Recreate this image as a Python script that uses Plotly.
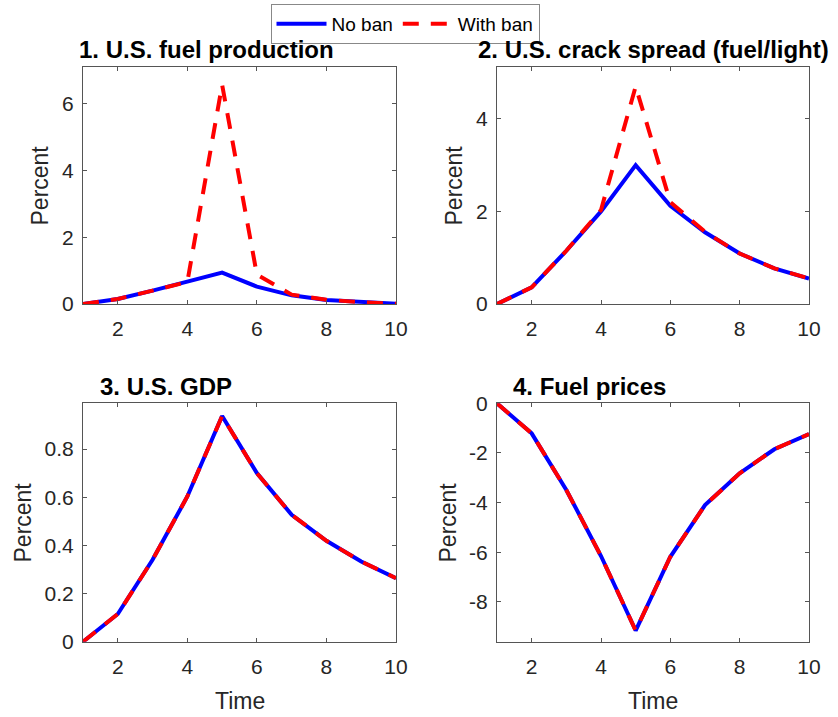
import plotly.graph_objects as go

# Impulse responses over ten periods, two scenarios
time = [1, 2, 3, 4, 5, 6, 7, 8, 9, 10]

fuel_prod_no_ban = [0.0, 0.15, 0.40, 0.66, 0.94, 0.52, 0.26, 0.12, 0.05, 0.01]
fuel_prod_ban = [0.0, 0.15, 0.40, 0.66, 6.57, 0.88, 0.28, 0.13, 0.05, 0.01]

crack_no_ban = [0.0, 0.36, 1.15, 2.00, 3.00, 2.12, 1.55, 1.09, 0.77, 0.55]
crack_ban = [0.0, 0.36, 1.15, 2.03, 4.70, 2.20, 1.56, 1.09, 0.77, 0.55]

gdp_no_ban = [0.0, 0.115, 0.34, 0.603, 0.937, 0.70, 0.527, 0.419, 0.333, 0.264]
gdp_ban = [0.0, 0.115, 0.34, 0.603, 0.937, 0.70, 0.527, 0.419, 0.333, 0.264]

price_no_ban = [0.0, -1.21, -3.49, -6.15, -9.15, -6.18, -4.10, -2.82, -1.85, -1.24]
price_ban = [0.0, -1.21, -3.49, -6.15, -9.15, -6.18, -4.10, -2.82, -1.85, -1.24]

panel_titles = ["1. U.S. fuel production", "2. U.S. crack spread (fuel/light)",
                "3. U.S. GDP", "4. Fuel prices"]
series_names = ["No ban", "With ban"]
x_ticks = [2, 4, 6, 8, 10]
y_ticks = [[0, 2, 4, 6], [0, 2, 4], [0, 0.2, 0.4, 0.6, 0.8], [-8, -6, -4, -2, 0]]
y_tick_text = [["0", "2", "4", "6"], ["0", "2", "4"],
               ["0", "0.2", "0.4", "0.6", "0.8"], ["-8", "-6", "-4", "-2", "0"]]

W, H = 838, 717
FONT = "Arial, Liberation Sans, Helvetica, sans-serif"
TXT = "#262626"
BOX = "#555555"


def px_x(p):
    return p / W


def px_y(p):
    return 1 - p / H


# Plot-area boxes in pixels: (left, right, top, bottom)
boxes = [(83, 396, 67, 304), (497, 809, 67, 304),
         (83, 396, 403.3, 641.7), (497, 809, 403.3, 641.7)]
y_ranges = [[0, 7.1], [0, 5.12], [0, 0.99], [-9.6, 0]]

data = [(fuel_prod_no_ban, fuel_prod_ban), (crack_no_ban, crack_ban),
        (gdp_no_ban, gdp_ban), (price_no_ban, price_ban)]

fig = go.Figure()
layout_axes = {}
for i, ((nb, wb), (l, r, t, b)) in enumerate(zip(data, boxes)):
    k = "" if i == 0 else str(i + 1)
    fig.add_trace(go.Scatter(x=time, y=nb, mode="lines", name=series_names[0],
                             line=dict(color="#0000FF", width=4),
                             xaxis="x" + k, yaxis="y" + k,
                             showlegend=(i == 0), legendrank=1))
    fig.add_trace(go.Scatter(x=time, y=wb, mode="lines", name=series_names[1],
                             line=dict(color="#FF0000", width=4, dash="16px,12px"),
                             xaxis="x" + k, yaxis="y" + k,
                             showlegend=(i == 0), legendrank=2))
    common = dict(showline=True, linecolor=BOX, linewidth=1, mirror="allticks",
                  ticks="inside", ticklen=4, tickcolor=BOX, showgrid=False,
                  zeroline=False, tickfont=dict(family=FONT, size=21, color=TXT))
    layout_axes["xaxis" + k] = dict(domain=[px_x(l), px_x(r)], range=[1, 10],
                                    anchor="y" + k, tickvals=x_ticks,
                                    ticklabelstandoff=6, **common)
    layout_axes["yaxis" + k] = dict(domain=[px_y(b), px_y(t)], range=y_ranges[i],
                                    anchor="x" + k, tickvals=y_ticks[i],
                                    ticktext=y_tick_text[i], ticklabelstandoff=4,
                                    **common)

annotations = []
# Panel titles
title_pos = [(77, 49, "left"), (653, 49, "center"), (98, 386.5, "left"), (511, 386.5, "left")]
for (x, y, anchor), text in zip(title_pos, panel_titles):
    annotations.append(dict(text="<b>" + text + "</b>", x=px_x(x), y=px_y(y),
                            xref="paper", yref="paper", xanchor=anchor, yanchor="middle",
                            showarrow=False, font=dict(family=FONT, size=24, color="#000000")))
# Axis labels
for x, y in [(39, 185.5), (453, 185.5), (22, 522.5), (447, 522.5)]:
    annotations.append(dict(text="Percent", x=px_x(x), y=px_y(y), xref="paper", yref="paper",
                            xanchor="center", yanchor="middle", textangle=-90, showarrow=False,
                            font=dict(family=FONT, size=23, color=TXT)))
for x in [240, 653]:
    annotations.append(dict(text="Time", x=px_x(x), y=px_y(701), xref="paper", yref="paper",
                            xanchor="center", yanchor="middle", showarrow=False,
                            font=dict(family=FONT, size=23, color=TXT)))

fig.update_layout(
    width=W, height=H,
    margin=dict(l=0, r=0, t=0, b=0, autoexpand=False),
    paper_bgcolor="white", plot_bgcolor="white",
    annotations=annotations,
    legend=dict(orientation="h", x=px_x(405), y=px_y(4), xanchor="center", yanchor="top",
                bordercolor="#888888", borderwidth=1, bgcolor="white",
                font=dict(family=FONT, size=19, color="#000000"),
                itemwidth=50, tracegroupgap=0),
    **layout_axes,
)

fig.write_html("out.html")
